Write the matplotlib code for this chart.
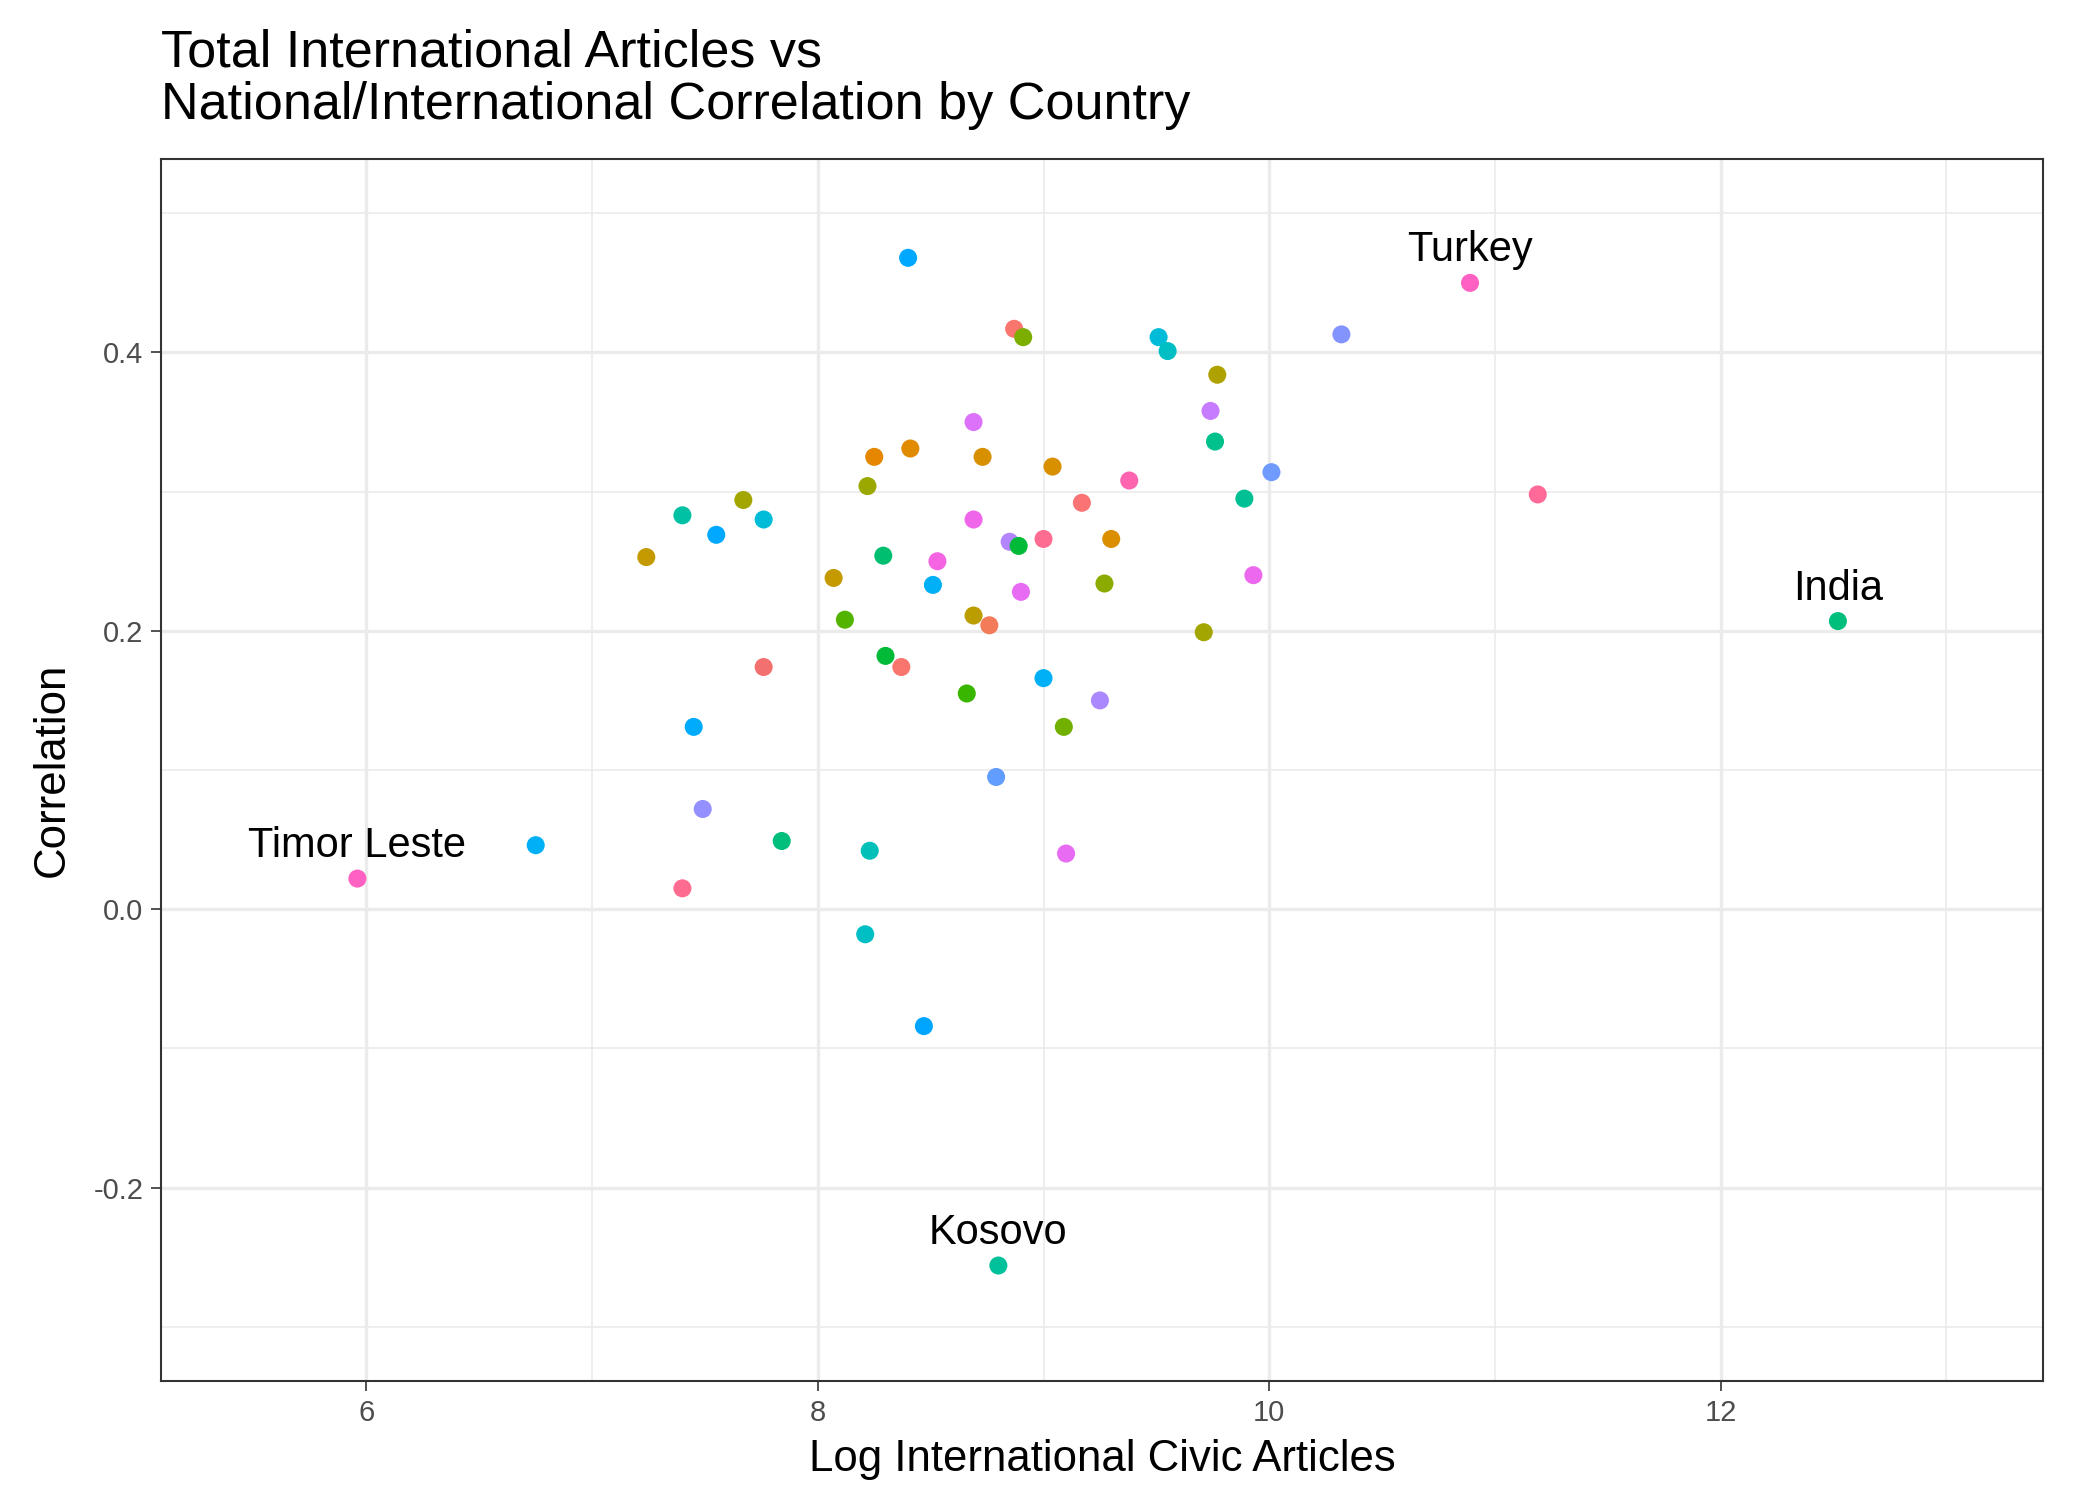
import numpy as np
import matplotlib
matplotlib.use('Agg')
from matplotlib import pyplot as plt
from matplotlib.ticker import MultipleLocator

plt.rcParams['font.family'] = ['Liberation Sans', 'DejaVu Sans']

log_articles = [5.96, 6.75, 7.40, 7.49, 7.84, 7.45, 7.76, 7.24, 7.40, 7.55, 7.67, 7.76,
                8.07, 8.12, 8.22, 8.25, 8.41, 8.29, 8.30, 8.37, 8.23, 8.21, 8.47, 8.40,
                8.53, 8.51, 8.69, 8.73, 8.69, 8.69, 8.76, 8.66, 8.79, 8.87, 8.91, 8.85,
                8.89, 8.90, 9.00, 9.04, 9.00, 9.09, 9.10, 9.17, 9.30, 9.27, 9.25, 9.38,
                9.51, 9.55, 9.77, 9.74, 9.76, 9.89, 9.71, 9.93, 10.01, 10.32, 10.89, 11.19,
                12.52, 8.80]
correlation = [0.022, 0.046, 0.015, 0.072, 0.049, 0.131, 0.174, 0.253, 0.283, 0.269, 0.294, 0.280,
               0.238, 0.208, 0.304, 0.325, 0.331, 0.254, 0.182, 0.174, 0.042, -0.018, -0.084, 0.468,
               0.250, 0.233, 0.350, 0.325, 0.280, 0.211, 0.204, 0.155, 0.095, 0.417, 0.411, 0.264,
               0.261, 0.228, 0.266, 0.318, 0.166, 0.131, 0.040, 0.292, 0.266, 0.234, 0.150, 0.308,
               0.411, 0.401, 0.384, 0.358, 0.336, 0.295, 0.199, 0.240, 0.314, 0.413, 0.450, 0.298,
               0.207, -0.256]
colors = ['#FF61C3', '#00B0F6', '#FF6C91', '#9590FF', '#00BF7D', '#00ABFD', '#F2716E', '#C49A00',
          '#00C1A3', '#00A9FF', '#A3A500', '#00BCD8', '#C49A00', '#53B400', '#9AA800', '#E58700',
          '#E08B00', '#00BE70', '#00BA38', '#F8766D', '#00C0B8', '#00BFC4', '#00A5FF', '#00A9FF',
          '#F564E3', '#00B0F6', '#DC71FA', '#D89000', '#F066EA', '#BB9D00', '#F37B59', '#39B600',
          '#619CFF', '#F8766D', '#7CAE00', '#B385FF', '#00BA38', '#E76BF3', '#FF6C91', '#D89000',
          '#00B0F6', '#72B000', '#E76BF3', '#FA7476', '#DB8E00', '#8CAB00', '#AC88FF', '#FF64B0',
          '#00BCD8', '#00BFC4', '#AFA100', '#C77CFF', '#00C08B', '#00C094', '#A3A500', '#EC69EF',
          '#6F9BFF', '#8494FF', '#FF61C3', '#FF6A98', '#00BF7D', '#00C19A']
labelled = {0: 'Timor Leste', 58: 'Turkey', 60: 'India', 61: 'Kosovo'}

fig = plt.figure(figsize=(14, 10), dpi=150)
ax = fig.add_axes([0.0767, 0.0793, 0.8963, 0.8147])
ax.scatter(log_articles, correlation, s=75, c=colors, edgecolors='none', zorder=3)
for i, name in labelled.items():
    ax.annotate(name, (log_articles[i], correlation[i]), xytext=(0, 6), textcoords='offset points',
                ha='center', va='bottom', fontsize=20, zorder=4)

ax.set_xlim(5.09, 13.43)
ax.set_ylim(-0.339, 0.539)
ax.xaxis.set_major_locator(MultipleLocator(2))
ax.xaxis.set_minor_locator(MultipleLocator(1))
ax.yaxis.set_major_locator(MultipleLocator(0.2))
ax.yaxis.set_minor_locator(MultipleLocator(0.1))
ax.set_yticks([-0.2, 0.0, 0.2, 0.4])
ax.set_yticklabels(['-0.2', '0.0', '0.2', '0.4'])
ax.grid(which='major', color='#EBEBEB', linewidth=1.6, zorder=0)
ax.grid(which='minor', color='#EBEBEB', linewidth=0.8, zorder=0)
ax.set_axisbelow(True)
ax.tick_params(which='minor', length=0)
ax.tick_params(which='major', length=5, color='#333333', labelsize=14, labelcolor='#4D4D4D')
for s in ax.spines.values():
    s.set_color('#333333')
    s.set_linewidth(1.0)

ax.set_xlabel('Log International Civic Articles', fontsize=21, labelpad=6)
ax.set_ylabel('Correlation', fontsize=21, labelpad=10)
fig.text(0.0767, 0.913, 'Total International Articles vs\nNational/International Correlation by Country',
         fontsize=25, ha='left', va='bottom', linespacing=1.1)

fig.savefig('out.png', dpi=150)
